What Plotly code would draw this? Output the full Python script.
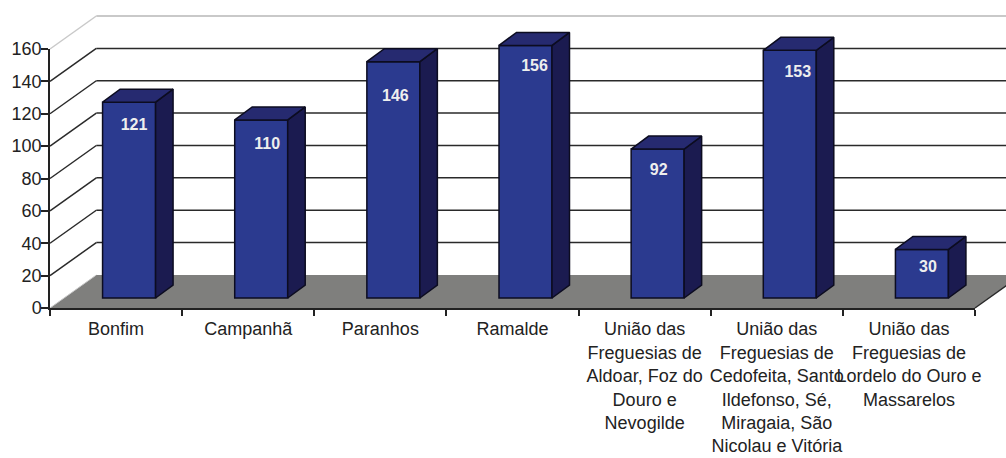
import plotly.graph_objects as go

categories = [
    "Bonfim", "Campanhã", "Paranhos", "Ramalde",
    "União das<br>Freguesias de<br>Aldoar, Foz do<br>Douro e<br>Nevogilde",
    "União das<br>Freguesias de<br>Cedofeita, Santo<br>Ildefonso, Sé,<br>Miragaia, São<br>Nicolau e Vitória",
    "União das<br>Freguesias de<br>Lordelo do Ouro e<br>Massarelos",
]
values = [121, 110, 146, 156, 92, 153, 30]
y_ticks = [0, 20, 40, 60, 80, 100, 120, 140, 160]

W, H = 1006, 458
L, R, T, B = 50, 975, 49, 308           # front plane of the plot, in page pixels
PX_U = (R - L) / len(categories)
PX_V = (B - T) / 160
to_u = lambda px: px / PX_U
to_v = lambda px: px / PX_V

WALL_DU, WALL_DV = to_u(46.3), to_v(33)  # depth of the box
BAR_DU, BAR_DV = to_u(17.5), to_v(13)    # depth of a bar
BAR_SHIFT_U, BAR_BASE_V = to_u(13), to_v(10)
BAR_W = to_u(53)
X0 = -0.5
X1 = X0 + len(categories)
# where each data label sits relative to its bar's top centre, in pixels
LABEL_DX = [5, 6, 2, 9, 1, 8, 6]
LABEL_DY = [24, 25, 35, 22, 22, 23, 19]

fig = go.Figure()

# ---- wall grid and floor, behind the bars
shapes = []
fx0, fx1 = X0, X1
shapes.append(dict(type="path", layer="below", xref="x", yref="y", line=dict(width=0),
                   fillcolor="#7f7f7d",
                   path=f"M{fx0},0 L{fx0+WALL_DU},{WALL_DV} L{fx1+WALL_DU},{WALL_DV} L{fx1},0 Z"))
for v in y_ticks:
    color, w = ("#c9c9c9", 2) if v == 160 else ("#2a2a2a", 1.5)
    if v > 0:
        shapes.append(dict(type="line", layer="below", xref="x", yref="y",
                           x0=fx0 + WALL_DU, x1=fx1 + WALL_DU, y0=v + WALL_DV, y1=v + WALL_DV,
                           line=dict(color=color, width=w)))
    if v == 0:
        color = "#c9c9c9"
    shapes.append(dict(type="line", layer="below", xref="x", yref="y",
                       x0=fx0, x1=fx0 + WALL_DU, y0=v, y1=v + WALL_DV,
                       line=dict(color=color, width=1.5 if v else 1)))
shapes.append(dict(type="line", layer="below", xref="x", yref="y",
                   x0=fx1, x1=fx1 + WALL_DU, y0=0, y1=WALL_DV,
                   line=dict(color="#2a2a2a", width=1.5)))

# ---- bars
xs = [i + BAR_SHIFT_U for i in range(len(values))]
fig.add_trace(go.Bar(x=xs, y=values, base=[BAR_BASE_V] * len(values), width=BAR_W,
                     marker=dict(color="#2b3a8f", line=dict(color="#0c0c20", width=1.5)),
                     xaxis="x", yaxis="y", showlegend=False, hoverinfo="skip"))

side_x, side_y, top_x, top_y = [], [], [], []
for x, v in zip(xs, values):
    xr, xl = x + BAR_W / 2, x - BAR_W / 2
    yb, yt = BAR_BASE_V, BAR_BASE_V + v
    side_x += [xr, xr + BAR_DU, xr + BAR_DU, xr, xr, None]
    side_y += [yb, yb + BAR_DV, yt + BAR_DV, yt, yb, None]
    top_x += [xl, xl + BAR_DU, xr + BAR_DU, xr, xl, None]
    top_y += [yt, yt + BAR_DV, yt + BAR_DV, yt, yt, None]
fig.add_trace(go.Scatter(x=side_x, y=side_y, mode="lines", fill="toself", fillcolor="#1b1b50",
                         line=dict(color="#0c0c20", width=1.5), showlegend=False, hoverinfo="skip"))
fig.add_trace(go.Scatter(x=top_x, y=top_y, mode="lines", fill="toself", fillcolor="#262a70",
                         line=dict(color="#0c0c20", width=1.5), showlegend=False, hoverinfo="skip"))

# ---- data labels
fig.add_trace(go.Scatter(
    x=[x + to_u(d) for x, d in zip(xs, LABEL_DX)],
    y=[v + BAR_BASE_V - to_v(d) for v, d in zip(values, LABEL_DY)],
    mode="text", text=[f"<b>{v}</b>" for v in values],
    textfont=dict(family="Liberation Sans", size=16, color="#eeeeee"),
    showlegend=False, hoverinfo="skip"))

# ---- the real axes
fig.add_trace(go.Scatter(x=categories, y=values, mode="markers", marker=dict(opacity=0),
                         xaxis="x2", yaxis="y2", showlegend=False, hoverinfo="skip"))

axis_font = dict(family="Liberation Sans", size=18, color="#222222")
fig.update_layout(
    width=W, height=H, margin=dict(l=0, r=0, t=0, b=0),
    paper_bgcolor="white", plot_bgcolor="rgba(0,0,0,0)", shapes=shapes,
    font=axis_font,
    xaxis=dict(visible=False, domain=[0, 1], fixedrange=True, anchor="y", automargin=False,
               range=[X0 - to_u(L), X0 + to_u(W - L)]),
    yaxis=dict(visible=False, domain=[0, 1], fixedrange=True, anchor="x", automargin=False,
               range=[-to_v(H - B), to_v(B)]),
    xaxis2=dict(anchor="y2", domain=[L / W, R / W], type="category", automargin=False,
                categoryorder="array", categoryarray=categories, range=[X0, X1],
                tickson="boundaries", ticks="outside", ticklen=6, tickwidth=1.5,
                ticklabelstandoff=4,
                tickcolor="#222222", showline=True, linecolor="#222222", linewidth=1.5,
                showgrid=False, zeroline=False, tickangle=0, tickfont=axis_font, fixedrange=True),
    yaxis2=dict(anchor="x2", domain=[(H - B) / H, (H - T) / H], range=[0, 160], automargin=False,
                tickvals=y_ticks, ticks="outside", ticklen=7, tickwidth=1.5,
                ticklabelstandoff=-4,
                tickcolor="#222222", showline=True, linecolor="#222222", linewidth=1.5,
                showgrid=False, zeroline=False, tickfont=axis_font, fixedrange=True),
)

fig.write_html("out.html", config=dict(displayModeBar=False),
               post_script="document.body.style.margin='0';")
